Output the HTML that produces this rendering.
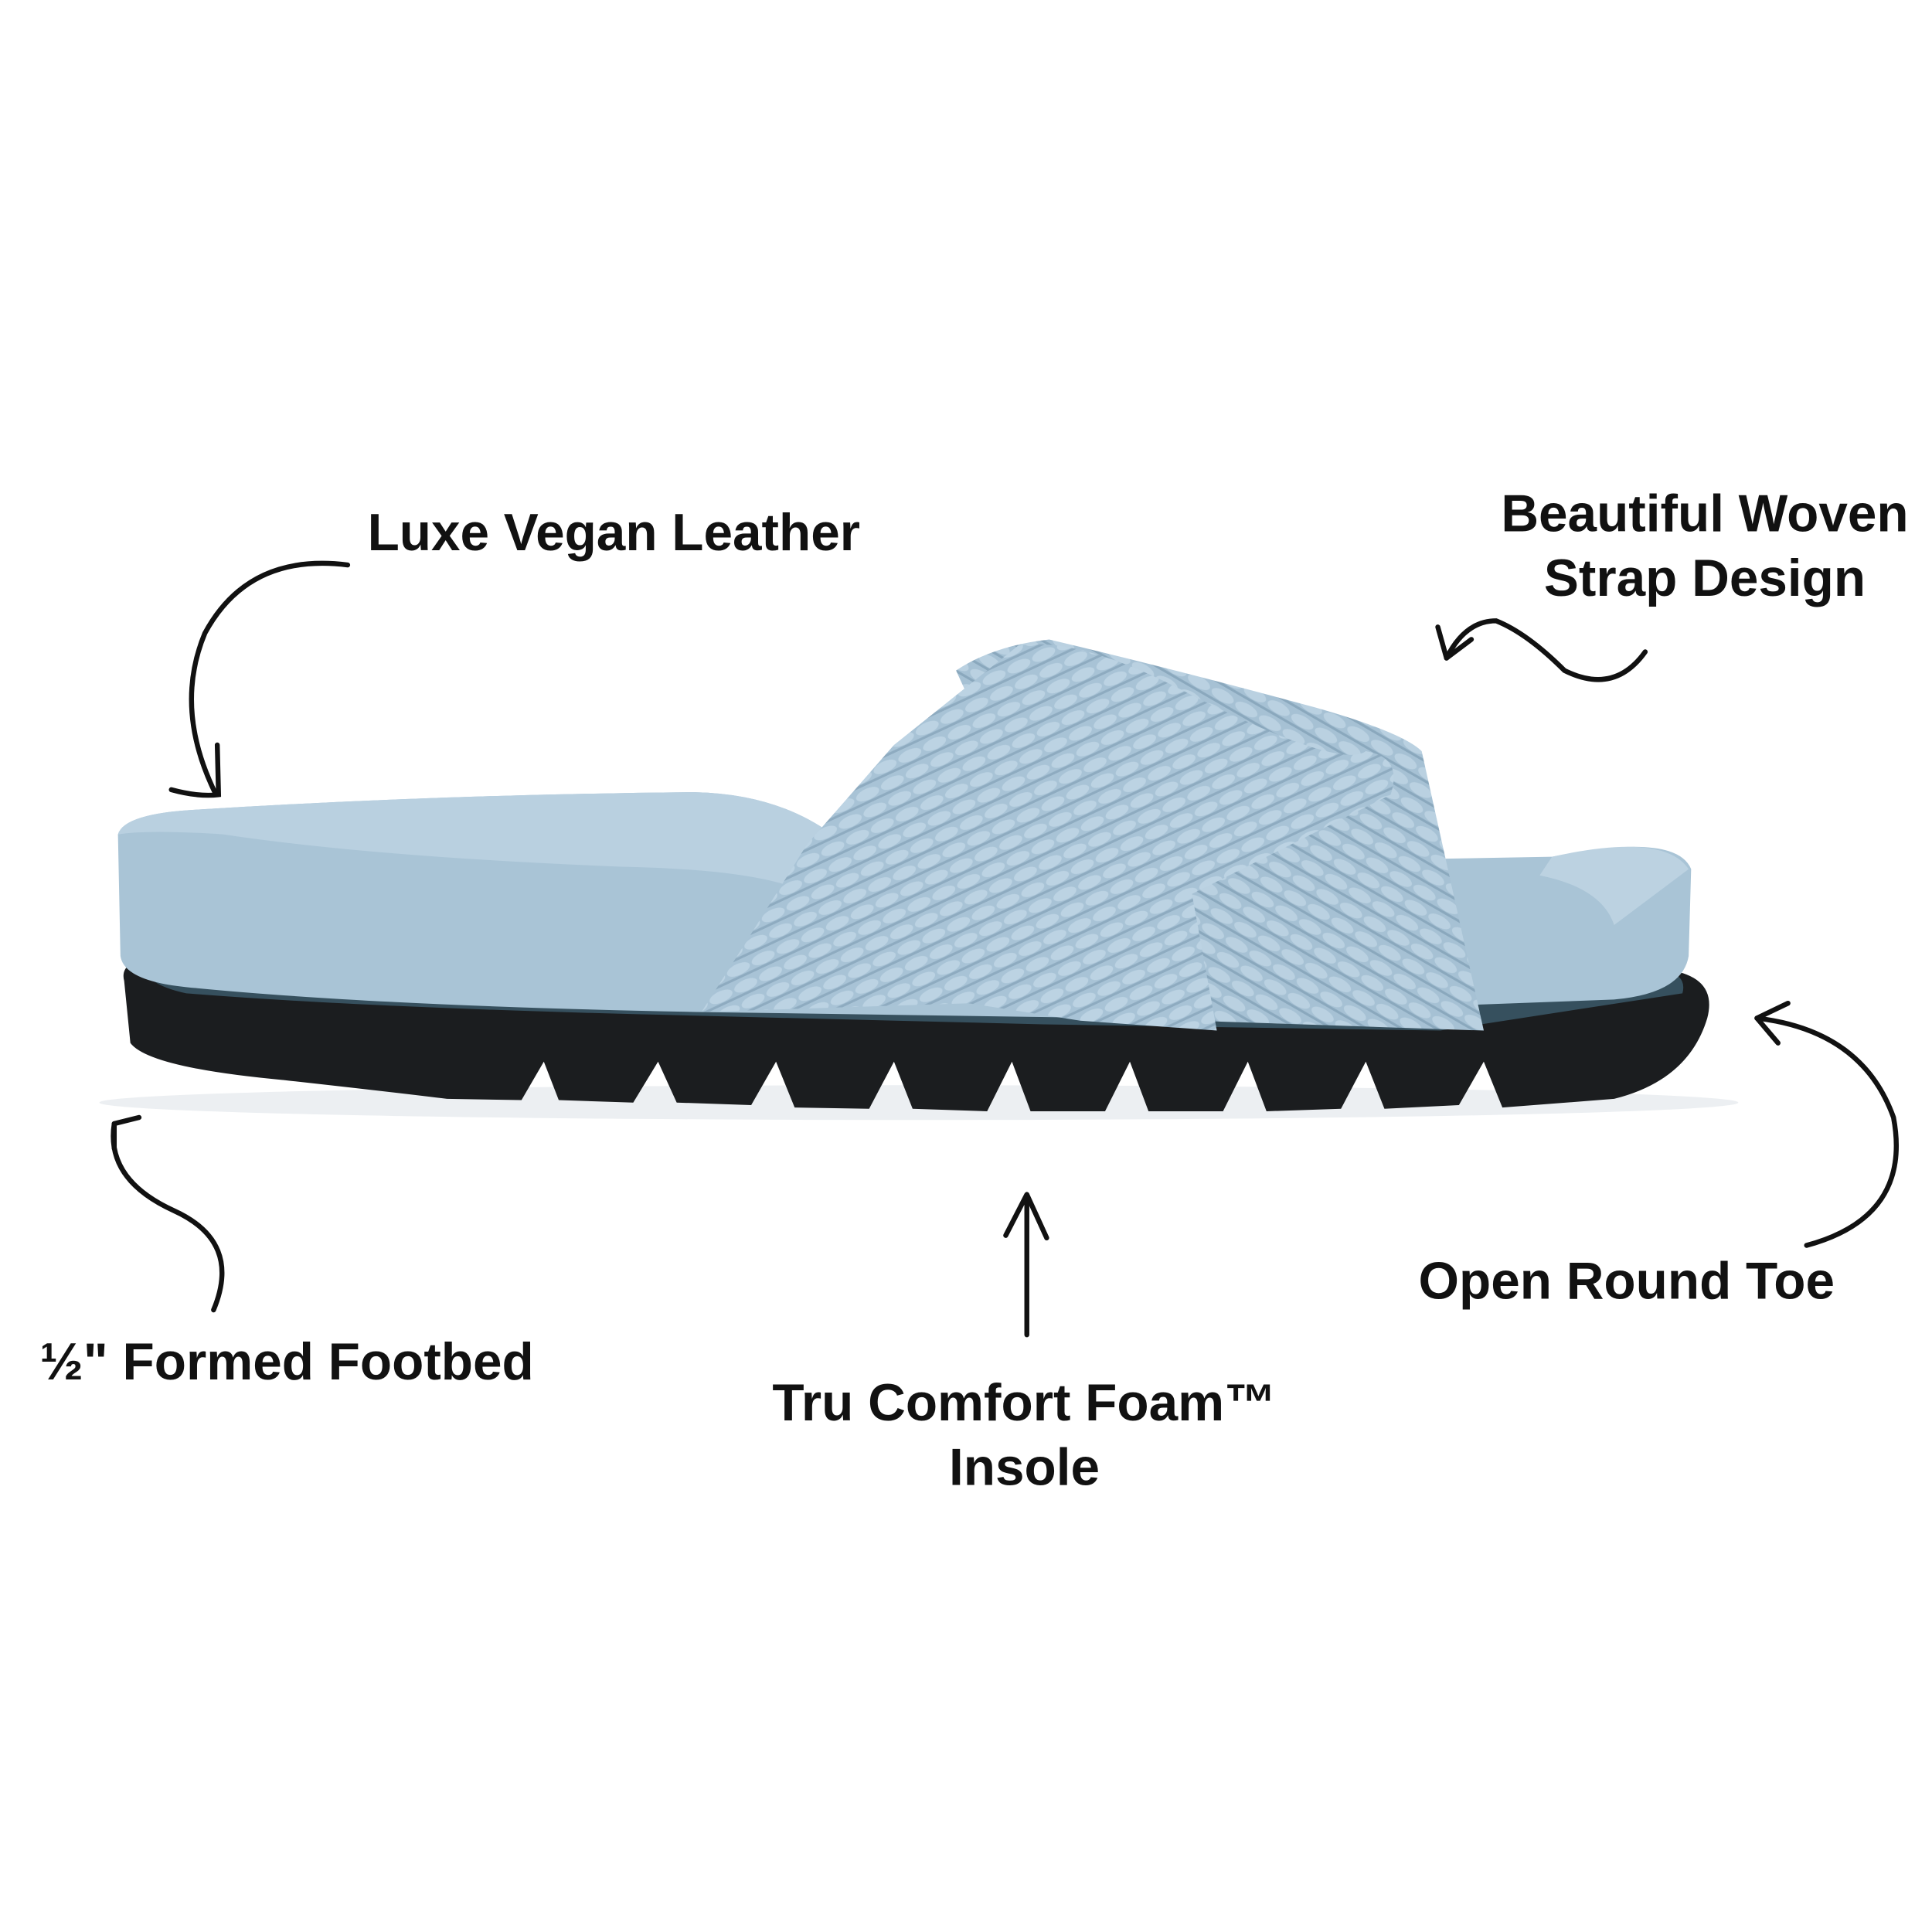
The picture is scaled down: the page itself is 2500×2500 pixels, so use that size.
<!DOCTYPE html>
<html><head><meta charset="utf-8"><style>
html,body{margin:0;padding:0;background:#fff;width:2500px;height:2500px;overflow:hidden}
svg{display:block}
text{font-family:"Liberation Sans",sans-serif;font-weight:bold;fill:#111}
</style></head><body>
<svg width="2500" height="2500" viewBox="0 0 1556 1556" xmlns="http://www.w3.org/2000/svg">
<defs>
<pattern id="weave" width="22" height="14" patternUnits="userSpaceOnUse" patternTransform="rotate(-25)">
<rect width="22" height="14" fill="#a8c3d6"/>
<ellipse cx="11" cy="7" rx="10" ry="4.5" fill="#bcd3e3"/>
<path d="M0 13 H22" stroke="#8eabc0" stroke-width="2"/>
</pattern>
<pattern id="weave2" width="22" height="14" patternUnits="userSpaceOnUse" patternTransform="rotate(30)">
<rect width="22" height="14" fill="#a6c1d4"/>
<ellipse cx="11" cy="7" rx="10" ry="4.5" fill="#bad1e1"/>
<path d="M0 13 H22" stroke="#8aa8bd" stroke-width="2"/>
</pattern>
</defs>
<rect width="1556" height="1556" fill="#fff"/>
<ellipse cx="740" cy="888" rx="660" ry="14" fill="#eceff2"/>
<path d="M100 790 Q96 775 120 772 L1330 780 Q1385 782 1375 820 Q1360 870 1300 885 L1210 892 L1195 855 L1175 890 L1115 893 L1100 855 L1080 893 L1020 895 L1005 855 L985 895 L925 895 L910 855 L890 895 L830 895 L815 855 L795 895 L735 893 L720 855 L700 893 L640 892 L625 855 L605 890 L545 888 L530 855 L510 888 L450 886 L438 855 L420 886 L360 885 Q320 880 230 870 Q120 860 105 840 Z" fill="#1b1d1f"/>
<path d="M115 772 L1330 780 Q1360 782 1355 800 L1160 830 L840 825 L560 818 Q300 812 150 800 Q112 792 115 772 Z" fill="#36505e"/>
<path d="M95 672 Q100 655 160 652 Q350 640 560 638 Q650 640 700 700 L1250 690 Q1350 670 1362 700 L1360 770 Q1355 800 1300 805 L900 820 L560 815 Q300 810 150 795 Q100 790 97 770 Z" fill="#a9c4d6"/>
<path d="M95 672 Q100 655 160 652 Q350 640 560 638 Q650 640 700 700 L640 715 Q600 700 500 698 Q300 690 180 672 Q120 668 95 672 Z" fill="#b9d0e0"/>
<path d="M1250 690 Q1340 670 1360 700 L1300 745 Q1290 715 1240 705 Z" fill="#bcd2e1"/>
<path d="M770 540 Q800 520 845 515 Q950 540 1060 570 Q1130 590 1145 605 L1195 830 L960 822 L900 720 L820 650 Z" fill="url(#weave2)"/>
<path d="M820 520 Q870 512 960 560 Q1080 620 1100 605 Q1130 610 1120 640 L960 720 L980 830 L870 822 L780 808 L565 815 L600 760 L650 680 L720 600 Z" fill="url(#weave)"/>
<g fill="none" stroke="#111" stroke-width="4" stroke-linecap="round">
<path d="M280 455 Q200 445 165 510 Q140 570 173 638"/>
<path d="M138 636 Q160 642 176 640 L175 600"/>
<path d="M1325 525 Q1300 560 1260 540 Q1230 510 1205 500 Q1180 500 1165 530"/>
<path d="M1165 530 L1158 505 M1165 530 L1185 515"/>
<path d="M1455 1003 Q1540 980 1525 900 Q1500 830 1415 820"/>
<path d="M1415 820 L1440 808 M1415 820 L1432 840"/>
<path d="M827 1075 L827 965"/>
<path d="M827 962 L810 995 M827 962 L843 997"/>
<path d="M172 1055 Q195 1000 140 975 Q85 950 92 905"/>
<path d="M92 905 L112 900 M92 905 L92 925"/>
</g>
<g font-size="42">
<text x="296" y="443">Luxe Vegan Leather</text>
<text x="1373" y="428" text-anchor="middle">Beautiful Woven</text>
<text x="1373" y="480" text-anchor="middle">Strap Design</text>
<text x="1310" y="1046" text-anchor="middle">Open Round Toe</text>
<text x="231" y="1111" text-anchor="middle">½" Formed Footbed</text>
<text x="825" y="1144" text-anchor="middle">Tru Comfort Foam™</text>
<text x="825" y="1196" text-anchor="middle">Insole</text>
</g>
</svg>
</body></html>
